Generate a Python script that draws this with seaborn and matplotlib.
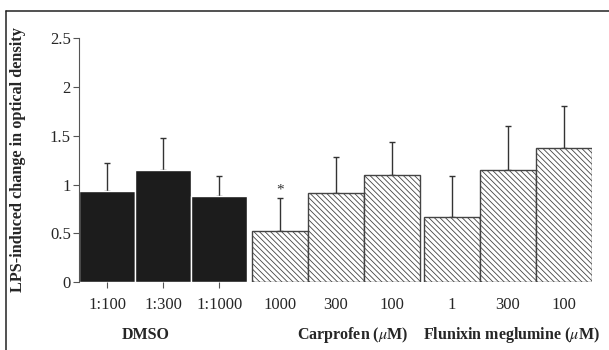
import numpy as np
import pandas as pd
import matplotlib
matplotlib.use("Agg")
import matplotlib.pyplot as plt
from matplotlib.lines import Line2D
import seaborn as sns

# values
group_of_bar = ["DMSO", "DMSO", "DMSO",
                "Carprofen", "Carprofen", "Carprofen",
                "Flunixin", "Flunixin", "Flunixin"]
doses = ["1:100", "1:300", "1:1000", "1000", "300", "100", "1", "300", "100"]
means = [0.93, 1.15, 0.88, 0.52, 0.91, 1.10, 0.67, 1.15, 1.37]
upper = [1.22, 1.48, 1.09, 0.86, 1.28, 1.44, 1.09, 1.60, 1.80]
group_names = ["DMSO", "Carprofen", "Flunixin"]
group_titles = ["DMSO", r"Carprofen ($\mu$M)", r"Flunixin meglumine ($\mu$M)"]

sns.set_style("ticks")
plt.rcParams["font.family"] = ["Liberation Serif", "DejaVu Serif"]
plt.rcParams["mathtext.fontset"] = "stix"
plt.rcParams["hatch.linewidth"] = 0.6

df = pd.DataFrame({"group": group_of_bar, "dose": doses,
                   "mean": means, "upper": upper})
# small gap between treatment groups
gid = df["group"].map({g: i for i, g in enumerate(group_names)})
df["pos"] = np.arange(len(df)) + 0.08 * gid

fig = plt.figure(figsize=(6.09, 3.5), dpi=100)
ax = fig.add_axes([0.130, 0.194, 0.842, 0.697])

sns.barplot(data=df, x="pos", y="mean", hue="group", native_scale=True,
            dodge=False, width=1.0, palette={"DMSO": "#1c1c1c",
                                             "Carprofen": "white",
                                             "Flunixin": "white"},
            legend=False, errorbar=None, ax=ax, zorder=2)

for p in ax.patches:
    fc = p.get_facecolor()
    if fc[0] > 0.5:
        p.set_hatch("\\\\\\\\\\\\")
        p.set_edgecolor("#444444")
        p.set_linewidth(1.0)
    else:
        p.set_edgecolor("white")
        p.set_linewidth(1.0)

ax.errorbar(df["pos"], df["mean"],
            yerr=[np.zeros(len(df)), df["upper"] - df["mean"]],
            fmt="none", ecolor="#333333", elinewidth=1.0, capsize=2.5,
            capthick=1.0, zorder=1)

# significance marker
ax.text(df["pos"][3], df["upper"][3] + 0.02, "*", ha="center",
        va="bottom", fontsize=11, color="#333333")

ax.set_xlim(df["pos"].min() - 0.5, df["pos"].max() + 0.5)
ax.set_ylim(0, 2.5)
ax.set_yticks([0, 0.5, 1, 1.5, 2, 2.5])
ax.set_yticklabels(["0", "0.5", "1", "1.5", "2", "2.5"])
ax.set_xticks(df["pos"])
ax.set_xticklabels(df["dose"])
ax.tick_params(axis="both", labelsize=12, length=4, width=0.8,
               color="#555555", pad=2)
ax.tick_params(axis="x", pad=7)
for i, t in enumerate(ax.xaxis.get_major_ticks()):
    if i > 2:
        t.tick1line.set_visible(False)
ax.set_xlabel("")
ax.set_ylabel("")
sns.despine(ax=ax, bottom=True)
ax.spines["left"].set_color("#555555")
ax.spines["left"].set_linewidth(0.8)

fig.text(18 / 609, 0.543, "LPS-induced change in optical density",
         rotation=90, ha="center", va="center", fontsize=11.7,
         fontweight="bold")

title_x = [0.68, 4.39, 7.23]
for x, t in zip(title_x, group_titles):
    ax.text(x, -0.217, t, transform=ax.get_xaxis_transform(), ha="center",
            va="center", fontsize=11.5, fontweight="bold")

# frame around the panel
fig.add_artist(Line2D([6 / 609, 1], [0.969, 0.969], color="#222222",
                      lw=1.1, transform=fig.transFigure))
fig.add_artist(Line2D([6 / 609, 6 / 609], [0, 0.969], color="#222222",
                      lw=1.1, transform=fig.transFigure))

fig.savefig("out.png", dpi=100)
